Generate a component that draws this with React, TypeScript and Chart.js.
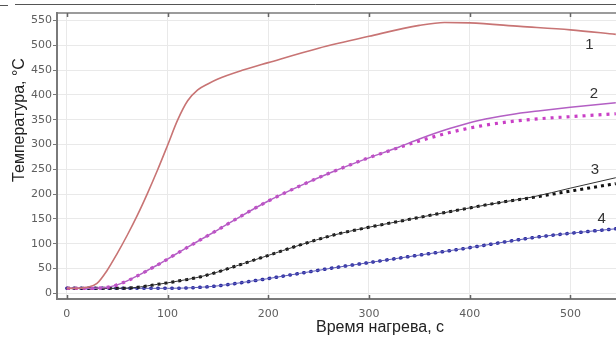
import React, { useEffect, useRef } from "react";
import { Chart, registerables } from "chart.js";

Chart.register(...registerables);

// Tick values
const xTicks = [0, 100, 200, 300, 400, 500];
const yTicks = [0, 50, 100, 150, 200, 250, 300, 350, 400, 450, 500, 550];

// Curve 1 (solid)
const time1 = [0, 10, 20, 30, 40, 50, 60, 70, 80, 90, 100, 110, 120, 130, 140, 150, 175, 200, 250, 300, 350, 375, 400, 450, 500, 545];
const temp1 = [10, 10, 12, 20, 46, 80, 117, 157, 201, 248, 298, 349, 388, 410, 422, 432, 450, 465, 494, 518, 540, 546, 545, 538, 531, 522];

// Curve 2: calculated (solid) and measured (dotted)
const time2 = [0, 20, 40, 50, 60, 70, 80, 90, 100, 110, 120, 132, 150, 165, 200, 231, 264, 297, 330, 350, 380, 410, 440, 470, 500, 545];
const temp2calc = [10, 10, 12, 17, 25, 35, 46, 57, 69, 81, 93, 107, 128, 146, 186, 216, 245, 271, 295, 311, 332, 349, 360, 368, 375, 384];
const temp2meas = [10, 10, 12, 17, 25, 35, 46, 57, 69, 81, 93, 107, 128, 146, 186, 216, 245, 271, 294, 307, 324, 337, 346, 352, 356, 362];

// Curve 3: calculated (solid) and measured (dotted)
const time3 = [0, 50, 70, 80, 90, 100, 120, 132, 150, 165, 198, 231, 264, 297, 330, 350, 397, 430, 462, 500, 545];
const temp3calc = [10, 10, 12, 15, 18, 21, 28, 33, 43, 53, 75, 97, 117, 132, 145, 153, 171, 183, 194, 212, 233];
const temp3meas = [10, 10, 12, 15, 18, 21, 28, 33, 43, 53, 75, 97, 117, 132, 145, 153, 171, 183, 193, 206, 221];

// Curve 4: calculated (solid) and measured (dotted)
const time4 = [0, 100, 132, 150, 165, 198, 231, 264, 297, 330, 350, 397, 462, 500, 545];
const temp4calc = [10, 10, 12, 15, 19, 29, 40, 51, 61, 71, 77, 91, 112, 121, 130];
const temp4meas = [10, 10, 12, 15, 19, 29, 40, 51, 61, 71, 77, 91, 112, 121, 130];

// Curve labels (text + anchor in data coordinates)
const curveLabels = ["1", "2", "3", "4"];
const labelTimes = [518.7, 523.3, 524.3, 531];
const labelTemps = [501.5, 402.7, 248, 150];

const xTitle = "Время нагрева, с";
const yTitle = "Температура, °C";

const pts = (t: number[], v: number[]) => t.map((x, i) => ({ x, y: v[i] }));

const decorPlugin = {
  id: "decor",
  afterDraw(chart: any) {
    const { ctx, chartArea } = chart;
    const { left, right, top, bottom } = chartArea;
    const xs = chart.scales.x;
    const ys = chart.scales.y;
    ctx.save();
    // scan artifact line at the very top
    ctx.strokeStyle = "#555";
    ctx.lineWidth = 1;
    ctx.beginPath();
    ctx.moveTo(0, 5.5);
    ctx.lineTo(8, 5.5);
    ctx.moveTo(15, 4.5);
    ctx.lineTo(616, 4.5);
    ctx.stroke();
    // top frame
    ctx.strokeStyle = "#7a7a7a";
    ctx.lineWidth = 1.5;
    ctx.beginPath();
    ctx.moveTo(left, top);
    ctx.lineTo(right, top);
    ctx.stroke();
    // inward x ticks on bottom and top
    ctx.strokeStyle = "#666";
    ctx.lineWidth = 1.5;
    ctx.beginPath();
    xTicks.forEach((v) => {
      const px = Math.round(xs.getPixelForValue(v)) + 0.5;
      ctx.moveTo(px, bottom);
      ctx.lineTo(px, bottom - 4);
      ctx.moveTo(px, top);
      ctx.lineTo(px, top + 4);
    });
    ctx.stroke();
    // curve labels
    ctx.fillStyle = "#333";
    ctx.font = '15px "Liberation Sans", Arial, sans-serif';
    ctx.textAlign = "center";
    ctx.textBaseline = "middle";
    curveLabels.forEach((s, i) => {
      ctx.fillText(s, xs.getPixelForValue(labelTimes[i]), ys.getPixelForValue(labelTemps[i]));
    });
    // axis titles
    ctx.fillStyle = "#222";
    ctx.font = '16px "Liberation Sans", Arial, sans-serif';
    ctx.fillText(xTitle, 380, 328);
    ctx.translate(20, 120);
    ctx.rotate(-Math.PI / 2);
    ctx.fillText(yTitle, 0, 0);
    ctx.restore();
  },
};

export default function App() {
  const ref = useRef<HTMLCanvasElement | null>(null);

  useEffect(() => {
    if (!ref.current) return;
    const tickFont = { family: '"DejaVu Sans", sans-serif', size: 11 };
    const chart = new Chart(ref.current, {
      type: "line",
      data: {
        datasets: [
          {
            data: pts(time1, temp1),
            borderColor: "#c87474",
            borderWidth: 1.6,
            cubicInterpolationMode: "monotone",
          },
          {
            data: pts(time2, temp2calc),
            borderColor: "#b35fc4",
            borderWidth: 1.5,
            cubicInterpolationMode: "monotone",
          },
          {
            data: pts(time2, temp2meas),
            borderColor: "#c93fc6",
            borderWidth: 3.2,
            borderDash: [3, 5],
            cubicInterpolationMode: "monotone",
          },
          {
            data: pts(time3, temp3calc),
            borderColor: "#333",
            borderWidth: 1,
            cubicInterpolationMode: "monotone",
          },
          {
            data: pts(time3, temp3meas),
            borderColor: "#111",
            borderWidth: 3,
            borderDash: [3, 4],
            cubicInterpolationMode: "monotone",
          },
          {
            data: pts(time4, temp4calc),
            borderColor: "#5a5ab8",
            borderWidth: 1,
            cubicInterpolationMode: "monotone",
          },
          {
            data: pts(time4, temp4meas),
            borderColor: "#2c2ca0",
            borderWidth: 3.5,
            borderDash: [0.5, 6.5],
            borderCapStyle: "round",
            cubicInterpolationMode: "monotone",
          },
        ] as any,
      },
      options: {
        responsive: false,
        animation: false,
        layout: { padding: { top: 13, right: 0, left: 0, bottom: 0 } },
        plugins: { legend: { display: false }, tooltip: { enabled: false } },
        elements: { point: { radius: 0 } },
        scales: {
          x: {
            type: "linear",
            min: -9.7,
            max: 545.2,
            afterBuildTicks: (s: any) => {
              s.ticks = xTicks.map((v) => ({ value: v }));
            },
            afterFit: (s: any) => {
              s.height = 39;
            },
            grid: { color: "#e9e9e9", lineWidth: 1, drawTicks: false },
            border: { color: "#7a7a7a", width: 2 },
            ticks: { padding: 9, color: "#5e5e5e", font: tickFont, maxRotation: 0, autoSkip: false },
          },
          y: {
            type: "linear",
            min: -11.5,
            max: 565,
            afterBuildTicks: (s: any) => {
              s.ticks = yTicks.map((v) => ({ value: v }));
            },
            afterFit: (s: any) => {
              s.width = 57;
            },
            grid: { color: "#e9e9e9", lineWidth: 1, tickColor: "#777", tickLength: 4 },
            border: { color: "#7a7a7a", width: 2 },
            ticks: { padding: 1, color: "#5e5e5e", font: tickFont, autoSkip: false },
          },
        },
      } as any,
      plugins: [decorPlugin],
    });
    return () => chart.destroy();
  }, []);

  return (
    <div style={{ position: "fixed", left: 0, top: 0, width: 616, height: 338, background: "#fff" }}>
      <canvas ref={ref} width={616} height={338} style={{ display: "block", width: 616, height: 338 }} />
    </div>
  );
}
